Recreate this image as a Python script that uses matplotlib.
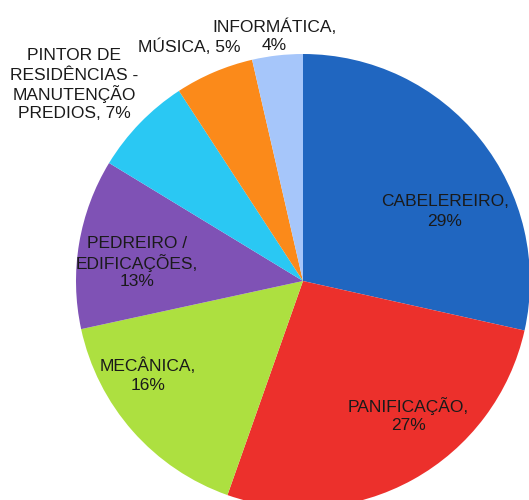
import matplotlib
matplotlib.use("Agg")
import matplotlib.pyplot as plt

# categories, slice sizes and printed labels
categories = ["CABELEREIRO", "PANIFICAÇÃO", "MECÂNICA", "PEDREIRO / EDIFICAÇÕES",
              "PINTOR DE RESIDÊNCIAS - MANUTENÇÃO PREDIOS", "MÚSICA", "INFORMÁTICA"]
shares = [28.5, 26.9, 16.2, 12.1, 7.1, 5.6, 3.6]
pct_labels = ["29%", "27%", "16%", "13%", "7%", "5%", "4%"]
label_text = ["CABELEREIRO,\n", "PANIFICAÇÃO,\n", "MECÂNICA,\n", "PEDREIRO /\nEDIFICAÇÕES,\n",
              "PINTOR DE\nRESIDÊNCIAS -\nMANUTENÇÃO\nPREDIOS, ", "MÚSICA, ", "INFORMÁTICA,\n"]
colors = ["#2066C0", "#EC302C", "#ADE040", "#7F52B5", "#2AC8F3", "#FB8A1A", "#A6C6FA"]

W, H = 529, 500
CENTER = (303, H - 281)
RADIUS = 227
LINE_STEP = 19  # px between label lines

# label anchor points in image pixels (x, y of first text line)
label_pos = [(445, 202), (408, 406), (148, 366), (137, 244), (74, 56), (189, 47), (274, 27)]

plt.rcParams["font.family"] = ["Liberation Sans", "DejaVu Sans"]

fig = plt.figure(figsize=(W / 100, H / 100), dpi=100)
ax = fig.add_axes([0, 0, 1, 1])
ax.pie(shares, colors=colors, startangle=90, counterclock=False,
       center=CENTER, radius=RADIUS, wedgeprops=dict(linewidth=0))
ax.set_xlim(0, W)
ax.set_ylim(0, H)
ax.set_aspect("equal")
ax.axis("off")

# one text per line so the stacked labels keep the reference's spacing
for (x, y), txt, pct in zip(label_pos, label_text, pct_labels):
    for k, line in enumerate((txt + pct).split("\n")):
        ax.text(x, H - (y + k * LINE_STEP), line, ha="center", va="center",
                fontsize=12.5, color="#1a1a1a")

fig.savefig("out.png", dpi=100)
